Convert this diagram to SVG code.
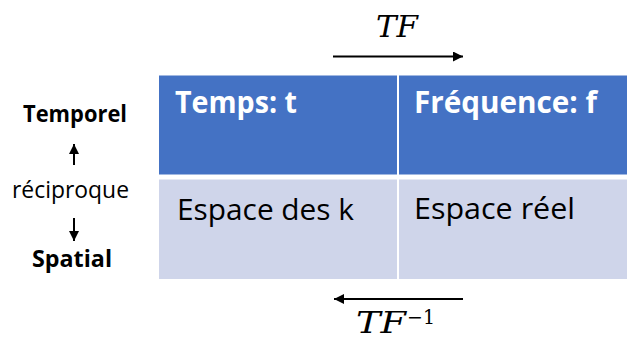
<svg xmlns="http://www.w3.org/2000/svg" width="627" height="340" viewBox="0 0 627 340">
<defs>
<style>
.hdr{fill:#4472C4}
.body{fill:#CFD5EA}
.ht{font-family:"Open Sans","Liberation Sans",sans-serif;font-weight:bold;font-size:30px;fill:#FFFFFF}
.bt{font-family:"Open Sans","Liberation Sans",sans-serif;font-size:30px;fill:#000000}
.lt{font-family:"Open Sans","Liberation Sans",sans-serif;font-size:23px;fill:#000000}
.lb{font-weight:bold}
.math{font-family:"DejaVu Serif","Liberation Serif",serif;font-style:italic;font-size:29px;fill:#000000}
.ln{stroke:#000000;stroke-width:2;fill:none}
</style>
<marker id="ah" viewBox="0 0 10 10" refX="10" refY="5" markerWidth="6" markerHeight="5" markerUnits="strokeWidth" orient="auto">
<path d="M0,0 L10,5 L0,10 z" fill="#000000"/>
</marker>
</defs>
<rect width="627" height="340" fill="#FFFFFF"/>
<g id="cell-temps">
<rect class="hdr" x="159" y="75.5" width="238" height="99"/>
<text class="ht" x="175" y="113" textLength="122" lengthAdjust="spacingAndGlyphs">Temps: t</text>
</g>
<g id="cell-frequence">
<rect class="hdr" x="399" y="75.5" width="230" height="99"/>
<text class="ht" x="414" y="113" textLength="183" lengthAdjust="spacingAndGlyphs">Fréquence: f</text>
</g>
<g id="cell-espace-k">
<rect class="body" x="159" y="179.5" width="238" height="99.5"/>
<text class="bt" x="177" y="220" textLength="177" lengthAdjust="spacingAndGlyphs">Espace des k</text>
</g>
<g id="cell-espace-reel">
<rect class="body" x="399" y="179.5" width="230" height="99.5"/>
<text class="bt" x="414" y="219" textLength="161" lengthAdjust="spacingAndGlyphs">Espace réel</text>
</g>
<g id="label-temporel">
<text class="lt lb" x="23" y="122" textLength="104" lengthAdjust="spacingAndGlyphs">Temporel</text>
</g>
<g id="label-reciproque">
<text class="lt" x="12" y="198" textLength="117" lengthAdjust="spacingAndGlyphs">réciproque</text>
</g>
<g id="label-spatial">
<text class="lt lb" x="32" y="267" textLength="80" lengthAdjust="spacingAndGlyphs">Spatial</text>
</g>
<g id="label-tf">
<text class="math" x="376" y="37" textLength="42" lengthAdjust="spacingAndGlyphs">TF</text>
</g>
<g id="label-tf-inv">
<text class="math" x="356" y="333" textLength="50" lengthAdjust="spacingAndGlyphs">TF</text>
<text class="math" x="407" y="324" style="font-size:20px;font-style:normal" textLength="28" lengthAdjust="spacingAndGlyphs">−1</text>
</g>
<g id="connectors">
<line class="ln" x1="333" y1="56.5" x2="463" y2="56.5" marker-end="url(#ah)"/>
<line class="ln" x1="463" y1="299" x2="334" y2="299" marker-end="url(#ah)"/>
<line class="ln" x1="74" y1="165" x2="74" y2="144" marker-end="url(#ah)"/>
<line class="ln" x1="74" y1="218" x2="74" y2="241" marker-end="url(#ah)"/>
</g>
</svg>
